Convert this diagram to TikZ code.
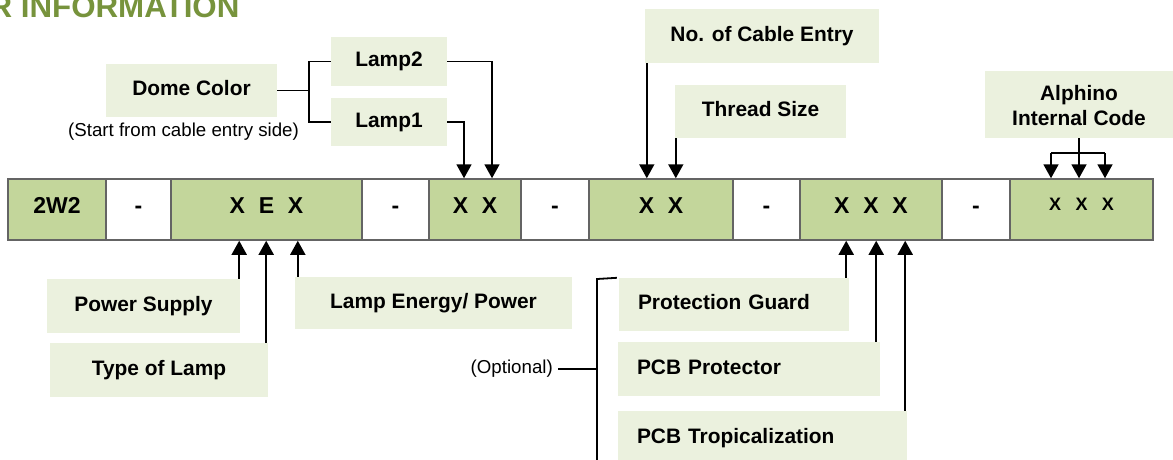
\documentclass[tikz,border=0pt]{standalone}
\usepackage{fontspec}
\setmainfont{Liberation Sans}
\usetikzlibrary{arrows.meta}

\definecolor{titlegreen}{RGB}{119,147,60}
\definecolor{codegreen}{RGB}{195,214,155}
\definecolor{labelgreen}{RGB}{235,241,222}
\definecolor{cellgrey}{RGB}{100,100,100}

\newcommand{\xgap}{\hspace{0.6em}}
\newcommand{\xwide}{\hspace{0.8em}}

\tikzset{
  cell/.style={draw=cellgrey, line width=1.5pt, inner sep=0pt, minimum height=61pt,
    font=\fontsize{23}{27}\selectfont\bfseries, text height=16.5pt, text depth=9.5pt},
  lbl/.style={fill=labelgreen, inner sep=0pt, font=\fontsize{20.9}{25}\selectfont\bfseries,
    text height=15pt, text depth=4.4pt},
  note/.style={inner sep=0pt, font=\fontsize{18.7}{22}\selectfont},
  conn/.style={line width=1.8pt},
  arr/.style={line width=1.8pt, -{Triangle[width=15pt,length=14pt]}}
}

\begin{document}
\begin{tikzpicture}[x=1pt, y=-1pt]
    \useasboundingbox (0,0) rectangle (1173,459);

    % title
    \node[inner sep=0pt, anchor=base west, text=titlegreen,
      font=\fontsize{31.3}{36}\selectfont\bfseries] (title) at (-10.6,17) {R INFORMATION};

    % code row
    \node[cell, fill=codegreen, minimum width=98pt] (c1) at (57,209.5) {2W2};
    \node[cell, fill=white, minimum width=65pt] (c2) at (138.5,209.5) {-};
    \node[cell, fill=codegreen, minimum width=191pt] (c3) at (266.5,209.5) {X\xgap E\xgap X};
    \node[cell, fill=white, minimum width=67pt] (c4) at (395.5,209.5) {-};
    \node[cell, fill=codegreen, minimum width=92pt] (c5) at (475,209.5) {X\xgap X};
    \node[cell, fill=white, minimum width=68pt] (c6) at (555,209.5) {-};
    \node[cell, fill=codegreen, minimum width=144pt] (c7) at (661,209.5) {X\xgap X};
    \node[cell, fill=white, minimum width=67pt] (c8) at (766.5,209.5) {-};
    \node[cell, fill=codegreen, minimum width=142pt] (c9) at (871,209.5) {X\xgap X\xgap X};
    \node[cell, fill=white, minimum width=68pt] (c10) at (976,209.5) {-};
    \node[cell, fill=codegreen, minimum width=143pt, font=\fontsize{18}{22}\selectfont\bfseries,
      text height=13pt, text depth=12pt] (c11) at (1081.5,209.5) {X\xwide X\xwide X};

    % labels above
    \node[lbl, minimum width=171pt, minimum height=53pt] (dome) at (191.5,90.5) {Dome Color};
    \node[note, anchor=base] (start) at (183.5,136.5) {(Start from cable entry side)};
    \node[lbl, minimum width=116pt, minimum height=49pt] (lamp2) at (389,61.5) {Lamp2};
    \node[lbl, minimum width=116pt, minimum height=48pt] (lamp1) at (389,122) {Lamp1};
    \node[lbl, minimum width=234pt, minimum height=54pt] (cable) at (762,36) {No. of Cable Entry};
    \node[lbl, minimum width=171pt, minimum height=53pt] (thread) at (760.5,111.5) {Thread Size};
    \node[lbl, minimum width=188pt, minimum height=67pt, align=center,
      text height=44.4pt, text depth=3.4pt]
      (alph) at (1079,104.5) {Alphino\\Internal Code};

    % labels below
    \node[lbl, minimum width=193pt, minimum height=54pt] (supply) at (143.5,306) {Power Supply};
    \node[lbl, minimum width=218pt, minimum height=54pt] (type) at (159,370) {Type of Lamp};
    \node[lbl, minimum width=277pt, minimum height=52pt] (energy) at (433.5,303) {Lamp Energy/ Power};
    \node[lbl, minimum width=230pt, minimum height=53pt, text width=192pt, align=left] (guard) at (734,304.5) {Protection Guard};
    \node[lbl, minimum width=262pt, minimum height=54pt, text width=224pt, align=left] (protector) at (749,369) {PCB Protector};
    \node[lbl, minimum width=289pt, minimum height=54pt, text width=251pt, align=left] (tropic) at (762.5,438) {PCB Tropicalization};
    \node[note, anchor=base east] (optional) at (553,373) {(Optional)};

    % dome colour bracket
    \coordinate (domejoin) at (309,90.5);
    \draw[conn] (dome.east) -- (domejoin);
    \draw[conn] (lamp2.west) -| (domejoin) |- (lamp1.west);

    % arrows into the row from above
    \draw[arr] (lamp1.east) -| ([xshift=-11pt]c5.north);
    \draw[arr] (lamp2.east) -| ([xshift=17pt]c5.north);
    \draw[arr] ([xshift=2pt]cable.south west) -- ([xshift=2pt]cable.south west |- c7.north);
    \draw[arr] ([xshift=1pt]thread.south west) -- ([xshift=1pt]thread.south west |- c7.north);
    \path (alph.south) ++(0,15) coordinate (alphjoin);
    \draw[conn] ([xshift=-28pt]alphjoin) -- ([xshift=26pt]alphjoin);
    \draw[arr] (alph.south) -- (alph.south |- c11.north);
    \draw[arr] ([xshift=-28pt]alphjoin) -- ([xshift=-28pt]alphjoin |- c11.north);
    \draw[arr] ([xshift=26pt]alphjoin) -- ([xshift=26pt]alphjoin |- c11.north);

    % arrows into the row from below
    \draw[arr] ([xshift=-1pt]supply.north east) -- ([xshift=-1pt]supply.north east |- c3.south);
    \draw[arr] ([xshift=-2pt]type.north east) -- ([xshift=-2pt]type.north east |- c3.south);
    \draw[arr] ([xshift=3pt]energy.north west) -- ([xshift=3pt]energy.north west |- c3.south);
    \draw[arr] ([xshift=-3pt]guard.north east) -- ([xshift=-3pt]guard.north east |- c9.south);
    \draw[arr] ([xshift=-4pt]protector.north east) -- ([xshift=-4pt]protector.north east |- c9.south);
    \draw[arr] ([xshift=-2pt]tropic.north east) -- ([xshift=-2pt]tropic.north east |- c9.south);

    % optional bracket
    \coordinate (opttop) at (597,279);
    \coordinate (optbot) at (597,470);
    \draw[conn] ([xshift=-2pt]guard.north west) -- (opttop) -- (optbot);
    \draw[conn] ([xshift=5pt]optional.east |- 0,369) -- (opttop |- 0,369);
\end{tikzpicture}
\end{document}
